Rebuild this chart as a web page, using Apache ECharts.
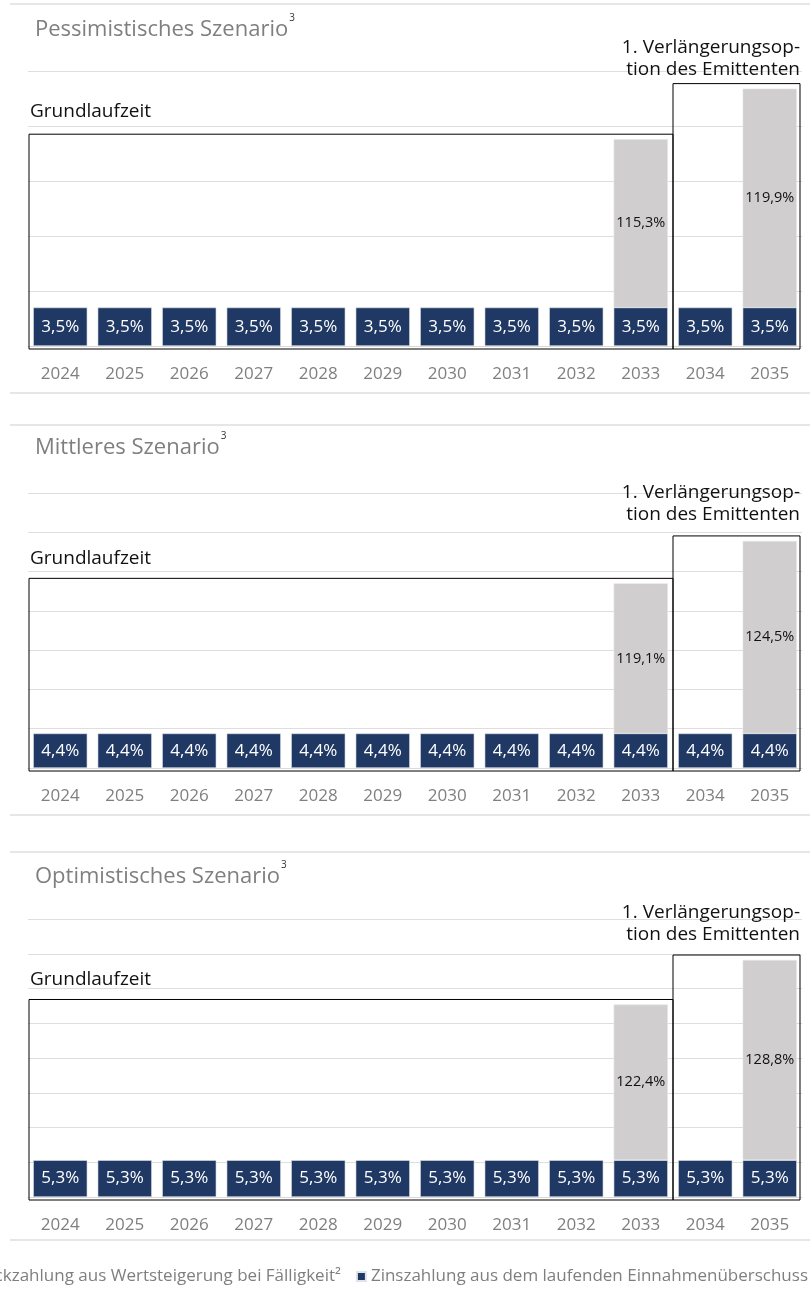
<!DOCTYPE html>
<html><head><meta charset="utf-8">
<script src="https://cdn.jsdelivr.net/npm/echarts@6/dist/echarts.min.js"></script>
<style>html,body{margin:0;padding:0;background:#fff}#c{width:810px;height:1292px}</style>
</head><body><div id="c"></div>
<script>
// ---- data ----
const years = ['2024','2025','2026','2027','2028','2029','2030','2031','2032','2033','2034','2035'];
const scenarioTitles = ['Pessimistisches Szenario','Mittleres Szenario','Optimistisches Szenario'];
const zinsPess   = [3.5,3.5,3.5,3.5,3.5,3.5,3.5,3.5,3.5,3.5,3.5,3.5];
const zinsMittel = [4.4,4.4,4.4,4.4,4.4,4.4,4.4,4.4,4.4,4.4,4.4,4.4];
const zinsOpt    = [5.3,5.3,5.3,5.3,5.3,5.3,5.3,5.3,5.3,5.3,5.3,5.3];
// Rückzahlung bei Fälligkeit in % des Nominals
const rueckPess   = [null,null,null,null,null,null,null,null,null,115.3,null,119.9];
const rueckMittel = [null,null,null,null,null,null,null,null,null,119.1,null,124.5];
const rueckOpt    = [null,null,null,null,null,null,null,null,null,122.4,null,128.8];
const yMax = [25, 35, 40];
const legendNames = ['Rückzahlung aus Wertsteigerung bei Fälligkeit²','Zinszahlung aus dem laufenden Einnahmenüberschuss'];
const labelGrund = 'Grundlaufzeit';
const labelVerl = ['1. Verlängerungsop-','tion des Emittenten'];

// ---- chart ----
const zinsAll = [zinsPess, zinsMittel, zinsOpt];
const rueckAll = [rueckPess, rueckMittel, rueckOpt];
const FONT = '"Open Sans", "Noto Sans", sans-serif';
const fmt = v => v.toFixed(1).replace('.', ',') + '%';

const gridPos = [{top:71,height:275},{top:493,height:275},{top:919,height:278}];
const chart = echarts.init(document.getElementById('c'), null, {renderer:'canvas'});

const grid=[], xAxis=[], yAxis=[], series=[];
for (let i=0;i<3;i++){
  grid.push({left:28, right:8, top:gridPos[i].top, height:gridPos[i].height});
  xAxis.push({type:'category', gridIndex:i, data:years,
    axisLine:{show:true, lineStyle:{color:'#d9d9d9', width:1}},
    axisTick:{show:false},
    axisLabel:{color:'#7f7f7f', fontSize:17, fontFamily:FONT, margin:20}});
  yAxis.push({type:'value', gridIndex:i, min:0, max:yMax[i], interval:5,
    axisLabel:{show:false}, axisLine:{show:false}, axisTick:{show:false},
    splitLine:{lineStyle:{color:'#dedede', width:1}}});
  series.push({name:legendNames[1], type:'bar', xAxisIndex:i, yAxisIndex:i, stack:'s'+i,
    data: zinsAll[i], barWidth:'84%',
    itemStyle:{color:'#1F3864', borderColor:'#dfe3ea', borderWidth:0.6},
    label:{show:true, position:'inside', color:'#ffffff', fontSize:17, fontFamily:FONT,
      formatter:p=>fmt(p.value)}});
  series.push({name:legendNames[0], type:'bar', xAxisIndex:i, yAxisIndex:i, stack:'s'+i,
    data: rueckAll[i].map(v => v==null ? null : +(v-100).toFixed(1)), barWidth:'84%',
    itemStyle:{color:'#D0CECE', borderColor:'#e6e6e6', borderWidth:0.6},
    label:{show:true, position:'inside', color:'#111111', fontSize:14.5, fontFamily:FONT,
      formatter:p=>fmt(rueckAll[i][p.dataIndex])}});
}

chart.setOption({
  animation:false,
  textStyle:{fontFamily:FONT},
  grid, xAxis, yAxis, series,
  legend:{data:legendNames, right:2, top:1268, width:1600, padding:0, itemGap:15,
    itemWidth:9, itemHeight:9, icon:'rect',
    textStyle:{color:'#7f7f7f', fontSize:17, fontFamily:FONT}}
});

// ---- annotations (boxes computed through the axes) ----
const ctx = document.createElement('canvas').getContext('2d');
function textW(t, font){ ctx.font = font; return ctx.measureText(t).width; }

const titleY = [30, 448, 877];
const verlY = [[48,70],[493,515],[913,935]];
const grundY = [112, 559, 980];
const sepY = [4, 393, 425, 815, 852, 1240];

const graphic = [];
sepY.forEach(y => graphic.push({type:'line', z:50, shape:{x1:10,y1:y,x2:810,y2:y},
  style:{stroke:'#dedede', lineWidth:1.5}}));

for (let i=0;i<3;i++){
  const px = k => chart.convertToPixel({xAxisIndex:i}, k);
  const py = v => chart.convertToPixel({yAxisIndex:i}, v);
  const bw = (px(11) - px(0)) / 11;
  const top1 = py(zinsAll[i][9] + rueckAll[i][9] - 100) - 5;
  const top2 = py(zinsAll[i][11] + rueckAll[i][11] - 100) - 5;
  const bottom = py(0) + 3;
  const xa = px(0) - bw/2 + 1, xb = px(9) + bw/2, xc = px(11) + bw/2 - 2;
  graphic.push({type:'rect', z:100, shape:{x:xa, y:top1, width:xb-xa, height:bottom-top1},
    style:{fill:'none', stroke:'#000', lineWidth:1}});
  graphic.push({type:'rect', z:100, shape:{x:xb, y:top2, width:xc-xb, height:bottom-top2},
    style:{fill:'none', stroke:'#000', lineWidth:1}});

  const tFont = '22px ' + FONT;
  graphic.push({type:'text', z:100, style:{x:35, y:titleY[i], text:scenarioTitles[i],
    font:tFont, fill:'#7f7f7f', textAlign:'left', textVerticalAlign:'middle'}});
  graphic.push({type:'text', z:100, style:{x:35 + textW(scenarioTitles[i], tFont) + 1, y:titleY[i]-12, text:'3',
    font:'10px ' + FONT, fill:'#333', textAlign:'left', textVerticalAlign:'middle'}});
  const aFont = '19px ' + FONT;
  graphic.push({type:'text', z:100, style:{x:30, y:grundY[i], text:labelGrund,
    font:aFont, fill:'#111', textAlign:'left', textVerticalAlign:'middle'}});
  labelVerl.forEach((t, j) => graphic.push({type:'text', z:100, style:{x:800, y:verlY[i][j], text:t,
    font:aFont, fill:'#111', textAlign:'right', textVerticalAlign:'middle'}}));
}
chart.setOption({graphic});
</script></body></html>
